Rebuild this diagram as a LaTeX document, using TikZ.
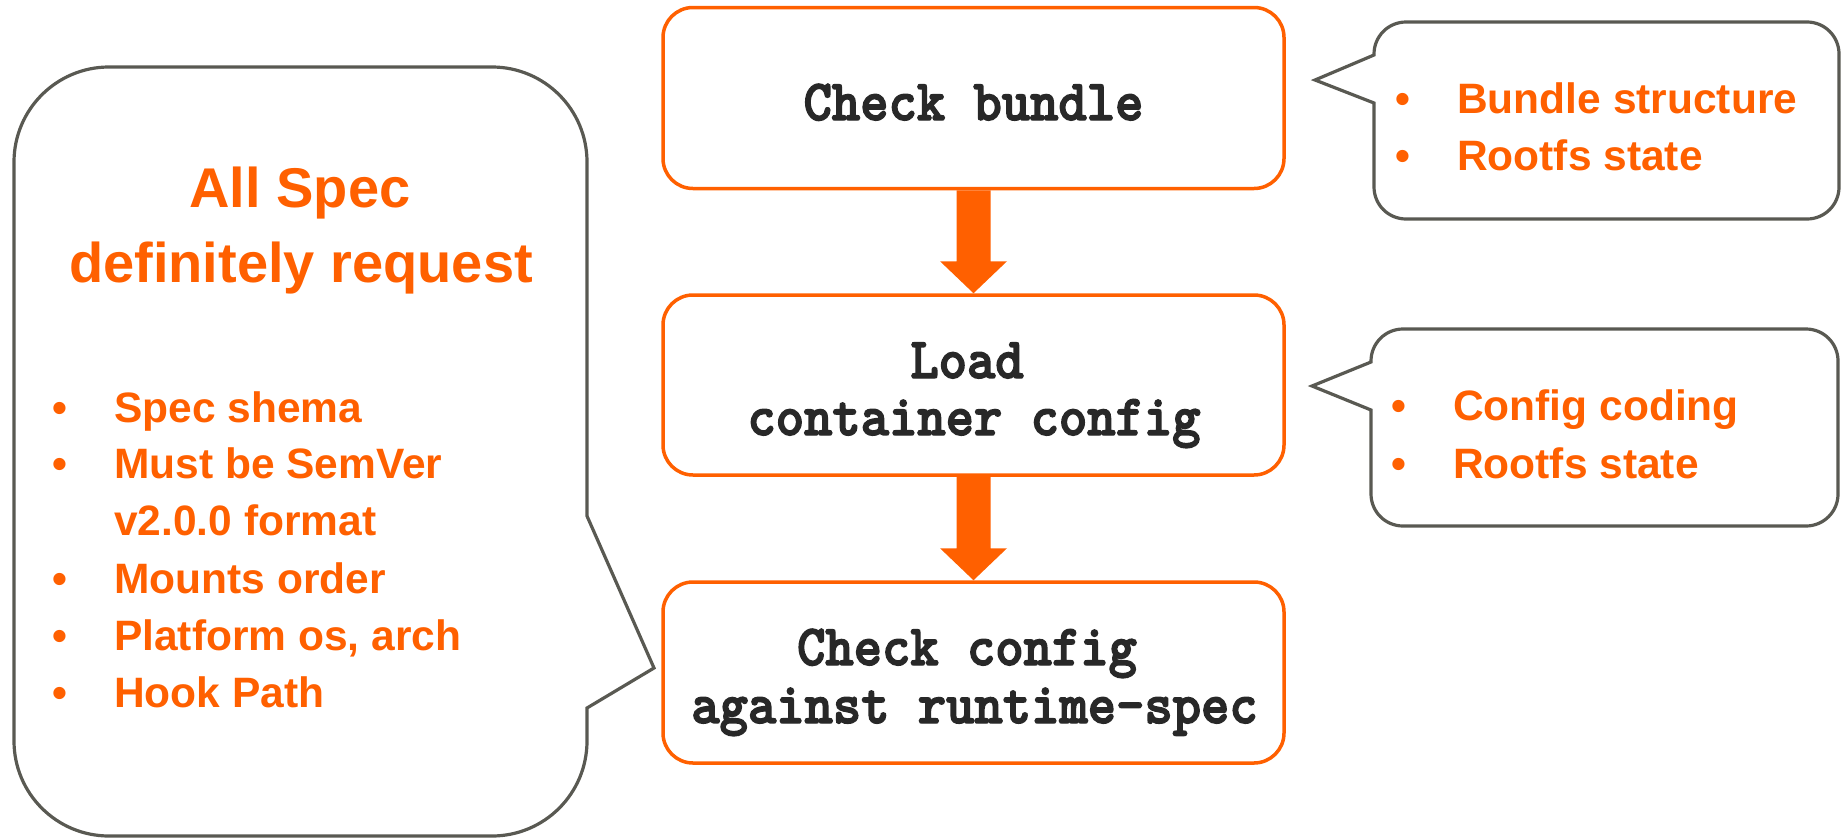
\documentclass[tikz,border=0pt]{standalone}
\usepackage{fontspec}
\setmainfont{Liberation Sans}
\newfontfamily\stepfont{lmmonolt10-bold.otf}[FakeBold=2.5, FakeStretch=0.93]
\usetikzlibrary{calc}
\definecolor{flow}{RGB}{255,96,0}
\definecolor{note}{RGB}{89,89,82}
\definecolor{ink}{RGB}{40,40,40}
\begin{document}
\begin{tikzpicture}[x=1pt,y=-1pt,
  flowbox/.style={draw=flow, line width=3.5pt, rounded corners=30pt, minimum width=621pt,
    inner sep=0pt, fill=white},
  steptext/.style={anchor=base, inner sep=0pt, text=ink, font=\stepfont\fontsize{58}{58}\selectfont},
  bubble/.style={draw=note, line width=3.2pt, fill=white, line join=miter},
  titletext/.style={anchor=base, inner sep=0pt, text=flow, font=\bfseries\fontsize{56}{60}\selectfont},
  itemtext/.style={anchor=base west, inner sep=0pt, text=flow, font=\bfseries\fontsize{42.5}{46}\selectfont},
  bullet/.style={anchor=base, inner sep=0pt, text=flow, font=\bfseries\fontsize{42.5}{46}\selectfont},
  blockarrow/.style={fill=flow}
]
\useasboundingbox (0,0) rectangle (1841,838);

% callout on the left
\draw[bubble] (587,516) -- (654,668) -- (587,708) -- (587,741)
  arc[start angle=0,end angle=90,radius=95] -- (109,836)
  arc[start angle=90,end angle=180,radius=95] -- (14,162)
  arc[start angle=180,end angle=270,radius=95] -- (492,67)
  arc[start angle=270,end angle=360,radius=95] -- cycle;
\node[titletext] (titleA) at (300,207) {All Spec};
\node[titletext] (titleB) at (301,282) {definitely request};
\node[bullet] (lb1) at (60,422) {•};
\node[itemtext] (li1) at (114,422) {Spec shema};
\node[bullet] (lb2) at (60,478) {•};
\node[itemtext] (li2) at (114,478) {Must be SemVer};
\node[itemtext] (li2b) at (114,535) {v2.0.0 format};
\node[bullet] (lb3) at (60,593) {•};
\node[itemtext] (li3) at (114,593) {Mounts order};
\node[bullet] (lb4) at (60,650) {•};
\node[itemtext] (li4) at (114,650) {Platform os, arch};
\node[bullet] (lb5) at (60,707) {•};
\node[itemtext] (li5) at (114,707) {Hook Path};

% callout beside the first step
\draw[bubble] (1374,55) -- (1315,80) -- (1374,103) -- (1374,187)
  arc[start angle=180,end angle=90,radius=32] -- (1807,219)
  arc[start angle=90,end angle=0,radius=32] -- (1839,54)
  arc[start angle=0,end angle=-90,radius=32] -- (1406,22)
  arc[start angle=-90,end angle=-180,radius=32] -- cycle;
\node[bullet] (rb1) at (1403,113) {•};
\node[itemtext] (ri1) at (1457,113) {Bundle structure};
\node[bullet] (rb2) at (1403,170) {•};
\node[itemtext] (ri2) at (1457,170) {Rootfs state};

% callout beside the second step
\draw[bubble] (1371,362) -- (1312,386) -- (1371,410) -- (1371,494)
  arc[start angle=180,end angle=90,radius=32] -- (1806,526)
  arc[start angle=90,end angle=0,radius=32] -- (1838,361)
  arc[start angle=0,end angle=-90,radius=32] -- (1403,329)
  arc[start angle=-90,end angle=-180,radius=32] -- cycle;
\node[bullet] (sb1) at (1399,420) {•};
\node[itemtext] (si1) at (1453,420) {Config coding};
\node[bullet] (sb2) at (1399,478) {•};
\node[itemtext] (si2) at (1453,478) {Rootfs state};

% the three steps
\node[flowbox, minimum height=181pt] (check) at (973.5,98) {};
\node[flowbox, minimum height=180pt] (load) at (973.5,385) {};
\node[flowbox, minimum height=181pt] (verify) at (973.5,672.5) {};

\node[steptext] (checkT) at (973.5,120) {Check bundle};
\node[steptext] (loadA) at (967,378) {Load};
\node[steptext] (loadB) at (974,435) {container config};
\node[steptext] (verifyA) at (967,665) {Check config};
\node[steptext] (verifyB) at (974.5,723) {against runtime-spec};

% block arrows between steps
\foreach \a/\b in {check/load, load/verify}{
  \fill[blockarrow] ($(\a.south)+(-17,0)$) -- ($(\b.north)+(-17,-32)$)
    -- ($(\b.north)+(-33.5,-32)$) -- (\b.north) -- ($(\b.north)+(33.5,-32)$)
    -- ($(\b.north)+(17,-32)$) -- ($(\a.south)+(17,0)$) -- cycle;
}
\end{tikzpicture}
\end{document}
